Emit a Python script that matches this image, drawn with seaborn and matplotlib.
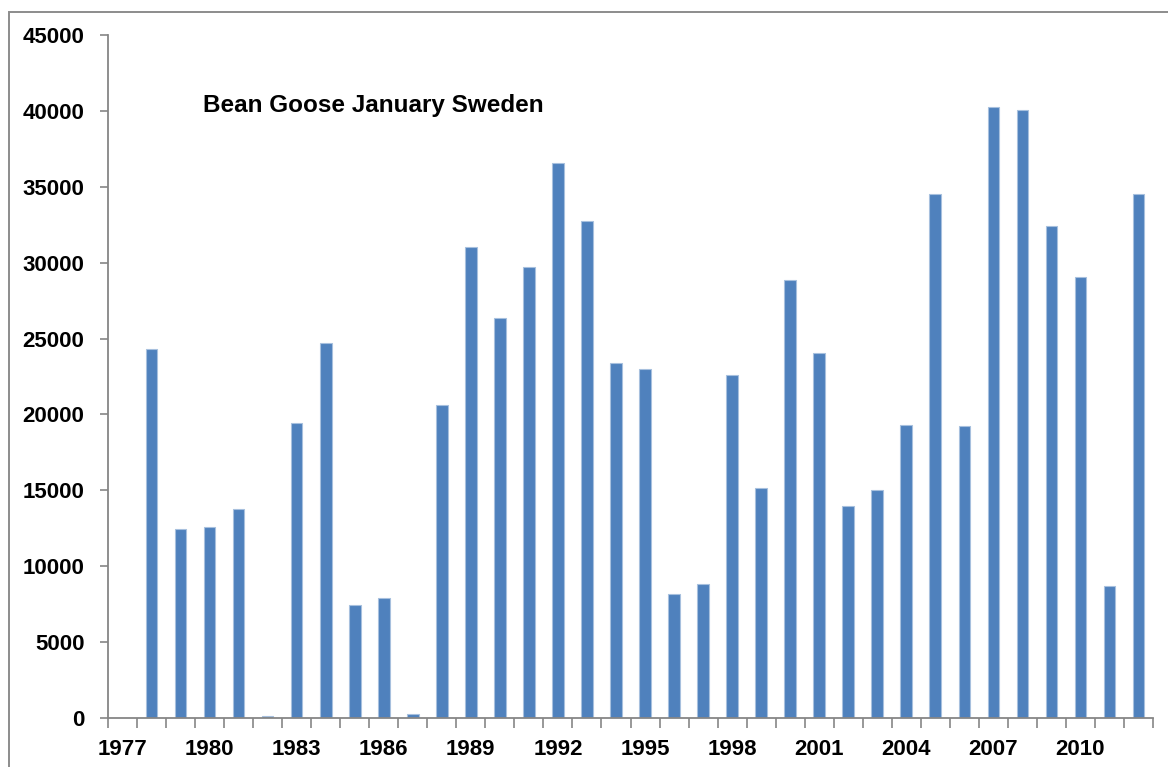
# Bean Goose January counts, Sweden - Excel style bar chart
import pandas as pd
import seaborn as sns
from matplotlib import pyplot as plt
from matplotlib.patches import Rectangle

years = list(range(1978, 2013))
counts = [24300, 12450, 12580, 13770, 150, 19450, 24700, 7430, 7890, 260,
          20630, 31020, 26360, 29700, 36590, 32730, 23370, 22980, 8190, 8830,
          22600, 15140, 28860, 24050, 13950, 15000, 19290, 34510, 19220, 40240,
          40090, 32440, 29040, 8700, 34510]
axis_years = list(range(1977, 2013))  # category axis starts one year earlier
label_years = list(range(1977, 2013, 3))
y_ticks = list(range(0, 45001, 5000))
title = "Bean Goose January Sweden"

df = pd.DataFrame({'year': years, 'count': counts})

sns.set_style('white')
plt.rcParams['font.family'] = ['Liberation Sans', 'DejaVu Sans']
plt.rcParams['text.color'] = 'black'
plt.rcParams['xtick.color'] = 'black'
plt.rcParams['ytick.color'] = 'black'

fig = plt.figure(figsize=(11.68, 7.67), dpi=100)
ax = fig.add_axes([108/1168, 1 - 718/767, (1153-108)/1168, (718-35)/767])

sns.barplot(data=df, x='year', y='count', order=axis_years, color='#4F81BD',
            saturation=1, width=0.4, edgecolor='#A7C0DE', linewidth=0.8, ax=ax)

ax.set_xlim(-0.5, len(axis_years) - 0.5)
ax.set_ylim(0, 45000)
ax.set_xlabel('')
ax.set_ylabel('')

grey = '#868686'
for s in ['top', 'right']:
    ax.spines[s].set_visible(False)
for s in ['left', 'bottom']:
    ax.spines[s].set_color(grey)
    ax.spines[s].set_linewidth(1.3)

# y axis
ax.set_yticks(y_ticks)
ax.set_yticklabels([str(v) for v in y_ticks], fontsize=16, fontweight='bold')
ax.tick_params(axis='y', direction='out', length=6, width=1.2, color=grey,
               labelcolor='black', pad=11, left=True)

# x axis: ticks on category boundaries, labels at centres every third year
pos = {y: i for i, y in enumerate(axis_years)}
ax.set_xticks([i - 0.5 for i in range(len(axis_years) + 1)])
ax.set_xticklabels([])
ax.tick_params(axis='x', which='major', direction='out', length=7, width=1.2, color=grey, bottom=True)
ax.set_xticks([pos[y] for y in label_years], minor=True)
ax.set_xticklabels([str(y) for y in label_years], minor=True, fontsize=16, fontweight='bold')
ax.tick_params(axis='x', which='minor', length=0, pad=15, labelcolor='black')

ax.text(0.091, 0.8975, title, transform=ax.transAxes, fontsize=17.5, color='black',
        fontweight='bold', ha='left', va='center')

# outer chart frame
fig.patches.append(Rectangle((9/1168, -0.5), 2, 0.5 + 1 - 12/767, transform=fig.transFigure,
                             fill=False, edgecolor='#8c8c8c', linewidth=1.4))

plt.savefig('out.png', dpi=100)
